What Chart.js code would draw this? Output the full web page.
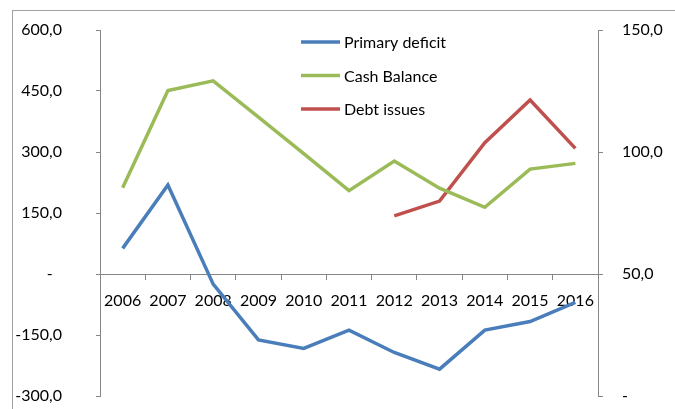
<!DOCTYPE html>
<html>
<head>
<meta charset="utf-8">
<script src="https://cdn.jsdelivr.net/npm/chart.js@4/dist/chart.umd.min.js"></script>
<style>
  body { margin: 0; background: #fff; }
  canvas { display: block; }
</style>
</head>
<body>
<canvas id="chart-deficit" width="675" height="409"></canvas>
<script>
const years = ['2006', '2007', '2008', '2009', '2010', '2011', '2012', '2013', '2014', '2015', '2016'];
const primaryDeficit = [63, 219, -25, -162, -183, -138, -193, -234, -138, -117, -70];
const cashBalance = [212, 451, 475, 386, 296, 205, 278, 211, 164, 258, 272];
const debtIssues = [null, null, null, null, null, null, 73.8, 79.9, 103.8, 121.3, 101.5];
const leftTicks = [-300, -150, 0, 150, 300, 450, 600];
const rightTicks = [0, 50, 100, 150];

const axisGray = '#868686';
const fontFam = 'Lato, "Open Sans", sans-serif';

function fmt(v, pad) {
  if (v === 0) return pad ? '-\u2007' : '-';
  return v.toFixed(1).replace('.', ',');
}

// white background + outer frame
const frame = {
  id: 'frame',
  beforeDraw(chart) {
    const c = chart.ctx;
    c.save();
    c.fillStyle = '#fff';
    c.fillRect(0, 0, chart.width, chart.height);
    c.strokeStyle = '#a0a0a0';
    c.lineWidth = 1;
    c.strokeRect(12.5, 10.5, 1000, 1000);
    c.restore();
  }
};

// legend drawn inside the plot, stacked vertically
const innerLegend = {
  id: 'innerLegend',
  afterDraw(chart) {
    const c = chart.ctx;
    c.save();
    c.font = '16px ' + fontFam;
    c.textBaseline = 'middle';
    c.textAlign = 'left';
    chart.data.datasets.forEach((ds, i) => {
      const y = 42 + i * 33.5;
      c.strokeStyle = ds.borderColor;
      c.lineWidth = 3.5;
      c.beginPath();
      c.moveTo(301, y);
      c.lineTo(340, y);
      c.stroke();
      c.fillStyle = '#000';
      c.fillText(ds.label, 344, y + 1);
    });
    c.restore();
  }
};

// keep the tick label padding from pushing the plot area in
function fixY(width) {
  return s => {
    s.width = width;
    s.paddingTop = 0;
    s.paddingBottom = 0;
  };
}

const ctxDeficit = document.getElementById('chart-deficit').getContext('2d');
new Chart(ctxDeficit, {
  type: 'line',
  data: {
    labels: years,
    datasets: [
      { label: 'Primary deficit', data: primaryDeficit, borderColor: '#4A7EBB', yAxisID: 'y' },
      { label: 'Cash Balance', data: cashBalance, borderColor: '#9BBB59', yAxisID: 'y' },
      { label: 'Debt issues', data: debtIssues, borderColor: '#C0504D', yAxisID: 'y2' }
    ]
  },
  options: {
    responsive: false,
    animation: false,
    devicePixelRatio: 1,
    layout: { padding: { top: 30, bottom: 13, left: 12, right: 12 } },
    elements: {
      line: { borderWidth: 3.5, tension: 0, fill: false },
      point: { radius: 0, hoverRadius: 0 }
    },
    plugins: {
      legend: { display: false },
      tooltip: { enabled: false }
    },
    scales: {
      x: {
        position: { y: 0 },
        offset: true,
        grid: { offset: true, drawOnChartArea: false, tickLength: 5, color: axisGray },
        border: { display: true, color: axisGray },
        ticks: { color: '#000', font: { family: fontFam, size: 16 }, padding: 12, maxRotation: 0, autoSkip: false }
      },
      y: {
        position: 'left',
        min: -300,
        max: 600,
        afterBuildTicks: s => { s.ticks = leftTicks.map(v => ({ value: v })); },
        afterFit: fixY(88),
        grid: { drawOnChartArea: false, tickLength: 4, color: axisGray },
        border: { display: true, color: axisGray },
        ticks: { color: '#000', font: { family: fontFam, size: 16 }, padding: 34, callback: v => fmt(v, true) }
      },
      y2: {
        position: 'right',
        min: 0,
        max: 150,
        afterBuildTicks: s => { s.ticks = rightTicks.map(v => ({ value: v })); },
        afterFit: fixY(65),
        grid: { drawOnChartArea: false, tickLength: 5, color: axisGray },
        border: { display: true, color: axisGray },
        ticks: { color: '#000', font: { family: fontFam, size: 16 }, padding: 19, callback: v => fmt(v, false) }
      }
    }
  },
  plugins: [frame, innerLegend]
});
</script>
</body>
</html>
